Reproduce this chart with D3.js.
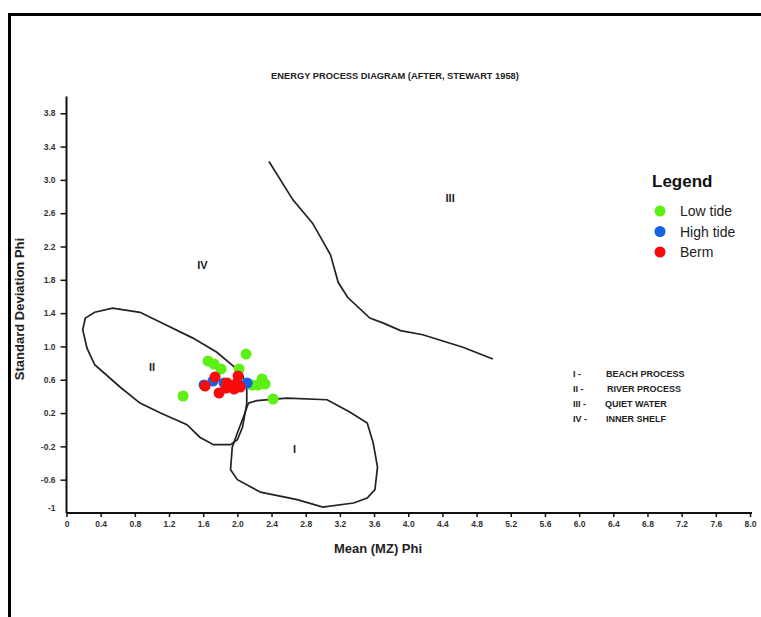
<!DOCTYPE html>
<html>
<head>
<meta charset="utf-8">
<script src="https://cdn.jsdelivr.net/npm/d3@7"></script>
<style>
  html, body { margin: 0; padding: 0; background: #fff; }
  svg { display: block; }
  text { font-family: "Liberation Sans", Arial, sans-serif; }
</style>
</head>
<body>
<svg id="chart" width="761" height="617"></svg>
<script>
// ---- Data ----
const xTicks = [0, 0.4, 0.8, 1.2, 1.6, 2.0, 2.4, 2.8, 3.2, 3.6, 4.0, 4.4, 4.8, 5.2, 5.6, 6.0, 6.4, 6.8, 7.2, 7.6, 8.0];
const xTickLabels = ["0","0.4","0.8","1.2","1.6","2.0","2.4","2.8","3.2","3.6","4.0","4.4","4.8","5.2","5.6","6.0","6.4","6.8","7.2","7.6","8.0"];
const yTicks = [-1, -0.6, -0.2, 0.2, 0.6, 1.0, 1.4, 1.8, 2.2, 2.6, 3.0, 3.4, 3.8];
const yTickLabels = ["-1","-0.6","-0.2","0.2","0.6","1.0","1.4","1.8","2.2","2.6","3.0","3.4","3.8"];

// Stewart (1958) field boundaries [mean, std dev]
const boundaryIII = [[2.37,3.22],[2.65,2.76],[2.88,2.48],[3.09,2.10],[3.18,1.77],[3.29,1.59],[3.55,1.34],[3.71,1.28],[3.91,1.19],[4.17,1.14],[4.64,0.99],[4.99,0.85]];
const regionII = [[0.22,1.34],[0.33,1.41],[0.54,1.46],[0.86,1.41],[1.10,1.29],[1.48,1.10],[1.76,0.93],[1.97,0.75],[2.06,0.66],[2.11,0.48],[2.11,0.32],[2.09,0.20],[2.06,0.03],[2.00,-0.12],[1.92,-0.18],[1.72,-0.18],[1.56,-0.09],[1.41,0.06],[1.10,0.20],[0.86,0.32],[0.63,0.51],[0.33,0.78],[0.24,0.98],[0.19,1.20]];
const regionI = [[2.13,0.32],[2.23,0.35],[2.58,0.38],[3.05,0.36],[3.32,0.21],[3.52,0.08],[3.59,-0.16],[3.64,-0.45],[3.61,-0.72],[3.52,-0.82],[3.36,-0.88],[3.00,-0.93],[2.70,-0.84],[2.27,-0.75],[2.00,-0.60],[1.92,-0.48],[1.94,-0.21],[2.00,-0.04],[2.07,0.15]];

const regionLabels = ["III", "IV", "II", "I"];
const regionLabelPos = [[4.49,2.78],[1.59,1.98],[1.0,0.75],[2.67,-0.23]];

const processCodes = ["I -", "II -", "III -", "IV -"];
const processNames = ["BEACH PROCESS", "RIVER PROCESS", "QUIET WATER", "INNER SHELF"];

const seriesNames = ["Low tide", "High tide", "Berm"];
const seriesColors = ["#5cf014", "#1560e6", "#fa0a0a"];

const lowTide = [[1.657,0.825],[1.727,0.789],[1.809,0.729],[2.102,0.909],[2.020,0.729],[1.364,0.405],[2.418,0.369],[2.289,0.609],[2.324,0.549],[2.242,0.537],[2.172,0.537]];
const highTide = [[1.610,0.537],[1.715,0.585],[1.844,0.561],[2.114,0.561]];
const berm = [[1.622,0.525],[1.739,0.633],[1.786,0.441],[1.879,0.561],[1.926,0.513],[1.961,0.489],[2.008,0.645],[1.996,0.561],[2.032,0.513],[1.868,0.501]];

const titleText = "ENERGY PROCESS DIAGRAM (AFTER, STEWART 1958)";
const xLabel = "Mean (MZ) Phi";
const yLabel = "Standard Deviation Phi";

// ---- Drawing ----
const svg = d3.select("#chart");

// outer frame
svg.append("rect").attr("x", 9.5).attr("y", 14.5).attr("width", 800).attr("height", 700)
  .attr("fill", "none").attr("stroke", "#000").attr("stroke-width", 3);

const x = d3.scaleLinear().domain([0, 8]).range([66.5, 750]);
const y = d3.scaleLinear().domain([-1, 4]).range([513, 96.6]);

// title
svg.append("text").attr("x", 395).attr("y", 79).attr("text-anchor", "middle")
  .attr("font-size", 9.3).attr("font-weight", "bold").attr("fill", "#222")
  .text(titleText);

// axes
const xAxis = svg.append("g").attr("transform", `translate(0,${y(-1)})`)
  .call(d3.axisBottom(x).tickValues(xTicks).tickSize(4).tickSizeOuter(0)
    .tickFormat((d, i) => xTickLabels[i]));
xAxis.select(".domain").attr("stroke", "#111").attr("stroke-width", 2)
  .attr("d", `M${x(0)},0H${x(8) + 2}`);
xAxis.selectAll(".tick line").attr("stroke", "#111").attr("stroke-width", 1.5);
xAxis.selectAll(".tick text").attr("font-size", 8.5).attr("font-weight", "bold")
  .attr("fill", "#333").attr("font-family", "Liberation Sans, Arial, sans-serif").attr("dy", "0.85em");

const yAxis = svg.append("g").attr("transform", `translate(${x(0)},0)`)
  .call(d3.axisLeft(y).tickValues(yTicks).tickSize(6).tickSizeOuter(0)
    .tickFormat((d, i) => yTickLabels[i]));
yAxis.select(".domain").attr("stroke", "#111").attr("stroke-width", 2)
  .attr("d", `M0,${y(-1)}V${y(4.0)}`);
yAxis.selectAll(".tick line").attr("stroke", "#111").attr("stroke-width", 1.5);
yAxis.selectAll(".tick").filter(d => d === -1).select("line").remove();
yAxis.selectAll(".tick text").attr("font-size", 8.5).attr("font-weight", "bold")
  .attr("fill", "#333").attr("font-family", "Liberation Sans, Arial, sans-serif").attr("x", -11);
yAxis.selectAll(".tick").filter(d => d === -1).select("text").attr("dy", "-0.3em");

// axis labels
svg.append("text").attr("x", 378).attr("y", 553).attr("text-anchor", "middle")
  .attr("font-size", 13).attr("font-weight", "bold").attr("fill", "#222").text(xLabel);
svg.append("text").attr("transform", "translate(24,309) rotate(-90)").attr("text-anchor", "middle")
  .attr("font-size", 13).attr("font-weight", "bold").attr("fill", "#222").text(yLabel);

// boundaries
const line = d3.line().x(d => x(d[0])).y(d => y(d[1]));
const closed = d3.line().x(d => x(d[0])).y(d => y(d[1])).curve(d3.curveLinearClosed);
svg.append("path").attr("d", line(boundaryIII)).attr("fill", "none").attr("stroke", "#222").attr("stroke-width", 1.7);
svg.append("path").attr("d", closed(regionII)).attr("fill", "none").attr("stroke", "#222").attr("stroke-width", 1.7);
svg.append("path").attr("d", closed(regionI)).attr("fill", "none").attr("stroke", "#222").attr("stroke-width", 1.7);

// region labels
svg.selectAll(".rlab").data(regionLabels).enter().append("text")
  .attr("x", (d, i) => x(regionLabelPos[i][0])).attr("y", (d, i) => y(regionLabelPos[i][1]))
  .attr("text-anchor", "middle").attr("dominant-baseline", "central")
  .attr("font-size", 11).attr("font-weight", "bold").attr("fill", "#222")
  .text(d => d);

// points
const series = [lowTide, highTide, berm];
series.forEach((pts, si) => {
  svg.append("g").selectAll("circle").data(pts).enter().append("circle")
    .attr("cx", d => x(d[0])).attr("cy", d => y(d[1])).attr("r", 5.5)
    .attr("fill", seriesColors[si]);
});

// legend
svg.append("text").attr("x", 652).attr("y", 187).attr("font-size", 17).attr("font-weight", "bold")
  .attr("fill", "#111").text("Legend");
const lg = svg.append("g");
seriesNames.forEach((name, i) => {
  lg.append("circle").attr("cx", 660).attr("cy", 211 + i * 20.5).attr("r", 5.5).attr("fill", seriesColors[i]);
  lg.append("text").attr("x", 680).attr("y", 216 + i * 20.5).attr("font-size", 14)
    .attr("fill", "#222").text(name);
});

// process key
processCodes.forEach((c, i) => {
  svg.append("text").attr("x", 573).attr("y", 377 + i * 15).attr("font-size", 9).attr("font-weight", "bold")
    .attr("fill", "#222").text(c);
  svg.append("text").attr("x", [606, 607, 605, 606][i]).attr("y", 377 + i * 15).attr("font-size", 9)
    .attr("font-weight", "bold").attr("fill", "#222").text(processNames[i]);
});
</script>
</body>
</html>
